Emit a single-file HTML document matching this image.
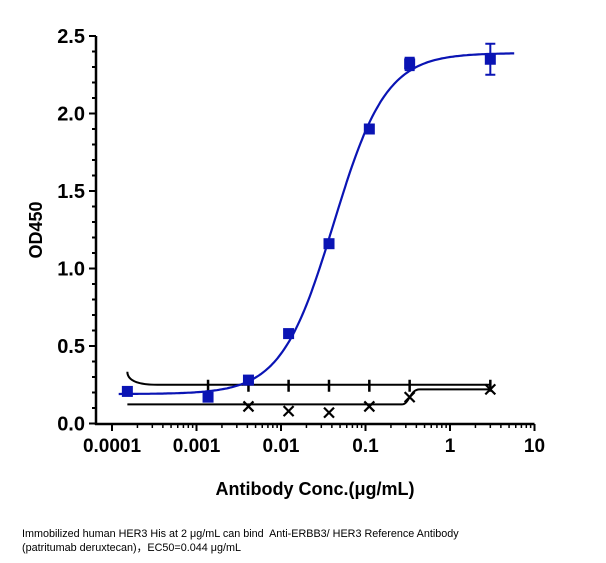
<!DOCTYPE html>
<html><head><meta charset="utf-8"><style>
body{margin:0;background:#fff;width:606px;height:563px;overflow:hidden;font-family:"Liberation Sans",Arial,sans-serif}
svg{position:absolute;left:0;top:0}
.cap{position:absolute;left:22px;top:527px;font-size:10.8px;line-height:14px;color:#000;font-family:"Liberation Sans","Noto Sans CJK SC",sans-serif}
</style></head><body>
<svg id="c" width="606" height="563"></svg>
<div class="cap">Immobilized human HER3 His at 2 μg/mL can bind&nbsp; Anti-ERBB3/ HER3 Reference Antibody<br>(patritumab deruxtecan)，EC50=0.044 μg/mL</div>
<script>
const conc=[0.000152,0.00137,0.00412,0.0123,0.037,0.111,0.333,3];
const od=[0.207,0.17,0.28,0.58,1.16,1.90,2.32,2.35];
const err=[0,0,0,0,0,0,0.04,0.1];
const fitBottom=0.19, fitTop=2.39, fitEC50=0.042, fitHill=1.4;
const ctrlConc=[0.00412,0.0123,0.037,0.111,0.333,3];
const ctrlOd=[0.11,0.08,0.07,0.11,0.17,0.22];
const upperLevel=0.25, lowerLevel=0.123, lowerTop=0.22;
const yTicks=[0,0.5,1.0,1.5,2.0,2.5];
const xTicks=[0.0001,0.001,0.01,0.1,1,10];
const xTickLabels=["0.0001","0.001","0.01","0.1","1","10"];
const NS="http://www.w3.org/2000/svg",svg=document.getElementById('c');
const X=v=>112+(Math.log10(v)+4)*84.5, Y=v=>423.5-v*155;
function mk(t,a,p){const e=document.createElementNS(NS,t);for(const k in a)e.setAttribute(k,a[k]);(p||svg).appendChild(e);return e;}
let ax=mk('line',{x1:96,y1:Y(2.5),x2:96,y2:425,stroke:'#000','stroke-width':2.5});


ax=mk('line',{x1:95,y1:424,x2:X(10),y2:424,stroke:'#000','stroke-width':2.5});


yTicks.forEach((v,i)=>{mk('line',{x1:89,y1:Y(v),x2:96,y2:Y(v),stroke:'#000','stroke-width':2});
 if(i<yTicks.length-1)for(let k=1;k<5;k++)mk('line',{x1:92,y1:Y(v+k*0.1),x2:96,y2:Y(v+k*0.1),stroke:'#000','stroke-width':2});
 const t=mk('text',{x:85,y:Y(v)+7,'text-anchor':'end','font-size':20,'font-weight':'bold'});t.textContent=v.toFixed(1);
 
 });
xTicks.forEach((v,i)=>{mk('line',{x1:X(v),y1:424,x2:X(v),y2:431,stroke:'#000','stroke-width':2});
 if(i<xTicks.length-1)for(let k=2;k<10;k++)mk('line',{x1:X(v*k),y1:424,x2:X(v*k),y2:428,stroke:'#000','stroke-width':1.5});
 const t=mk('text',{x:X(v),y:452,'text-anchor':'middle','font-size':19,'font-weight':'bold'});t.textContent=xTickLabels[i];
 
 });
let t=mk('text',{x:315,y:495,'text-anchor':'middle','font-size':18,'font-weight':'bold'});t.textContent='Antibody Conc.(μg/mL)';


t=mk('text',{x:0,y:0,'text-anchor':'middle','font-size':18,'font-weight':'bold',transform:'translate(42,230) rotate(-90)'});t.textContent='OD450';


let d=`M${X(conc[0])} ${Y(upperLevel)-13} Q${X(conc[0])} ${Y(upperLevel)} ${X(conc[0])+30} ${Y(upperLevel)} L${X(3)} ${Y(upperLevel)}`;
let p=mk('path',{d,fill:'none',stroke:'#000','stroke-width':2});


conc.slice(1).forEach(c=>{const m=mk('line',{x1:X(c),y1:Y(upperLevel)-5,x2:X(c),y2:Y(upperLevel)+7,stroke:'#000','stroke-width':2.5});
 
 });
const sx=X(0.333);
d=`M${X(conc[0])} ${Y(lowerLevel)} L${sx-8} ${Y(lowerLevel)} C${sx} ${Y(lowerLevel)} ${sx} ${Y(lowerTop)} ${sx+10} ${Y(lowerTop)} L${X(3)} ${Y(lowerTop)}`;
p=mk('path',{d,fill:'none',stroke:'#000','stroke-width':2});


ctrlConc.forEach((c,i)=>{const x=X(c),y=Y(ctrlOd[i]);
 const m=mk('path',{d:`M${x-5} ${y-5}L${x+5} ${y+5}M${x+5} ${y-5}L${x-5} ${y+5}`,stroke:'#000','stroke-width':2.2});
 
 });
let pts=[];for(let lx=Math.log10(0.00012);lx<=Math.log10(6);lx+=0.02){const c=Math.pow(10,lx);
 const v=fitBottom+(fitTop-fitBottom)/(1+Math.pow(fitEC50/c,fitHill));pts.push(X(c).toFixed(1)+','+Y(v).toFixed(1));}
p=mk('polyline',{points:pts.join(' '),fill:'none',stroke:'#0a14b4','stroke-width':2.2});


conc.forEach((c,i)=>{const x=X(c),y=Y(od[i]);
 if(err[i]>0){const e=mk('path',{d:`M${x} ${Y(od[i]+err[i])}V${Y(od[i]-err[i])}M${x-5} ${Y(od[i]+err[i])}h10M${x-5} ${Y(od[i]-err[i])}h10`,stroke:'#0a14b4','stroke-width':2,fill:'none'});
  
  }
 const r=mk('rect',{x:x-5.5,y:y-5.5,width:11,height:11,fill:'#0a14b4'});
 
 });
</script>
</body></html>
